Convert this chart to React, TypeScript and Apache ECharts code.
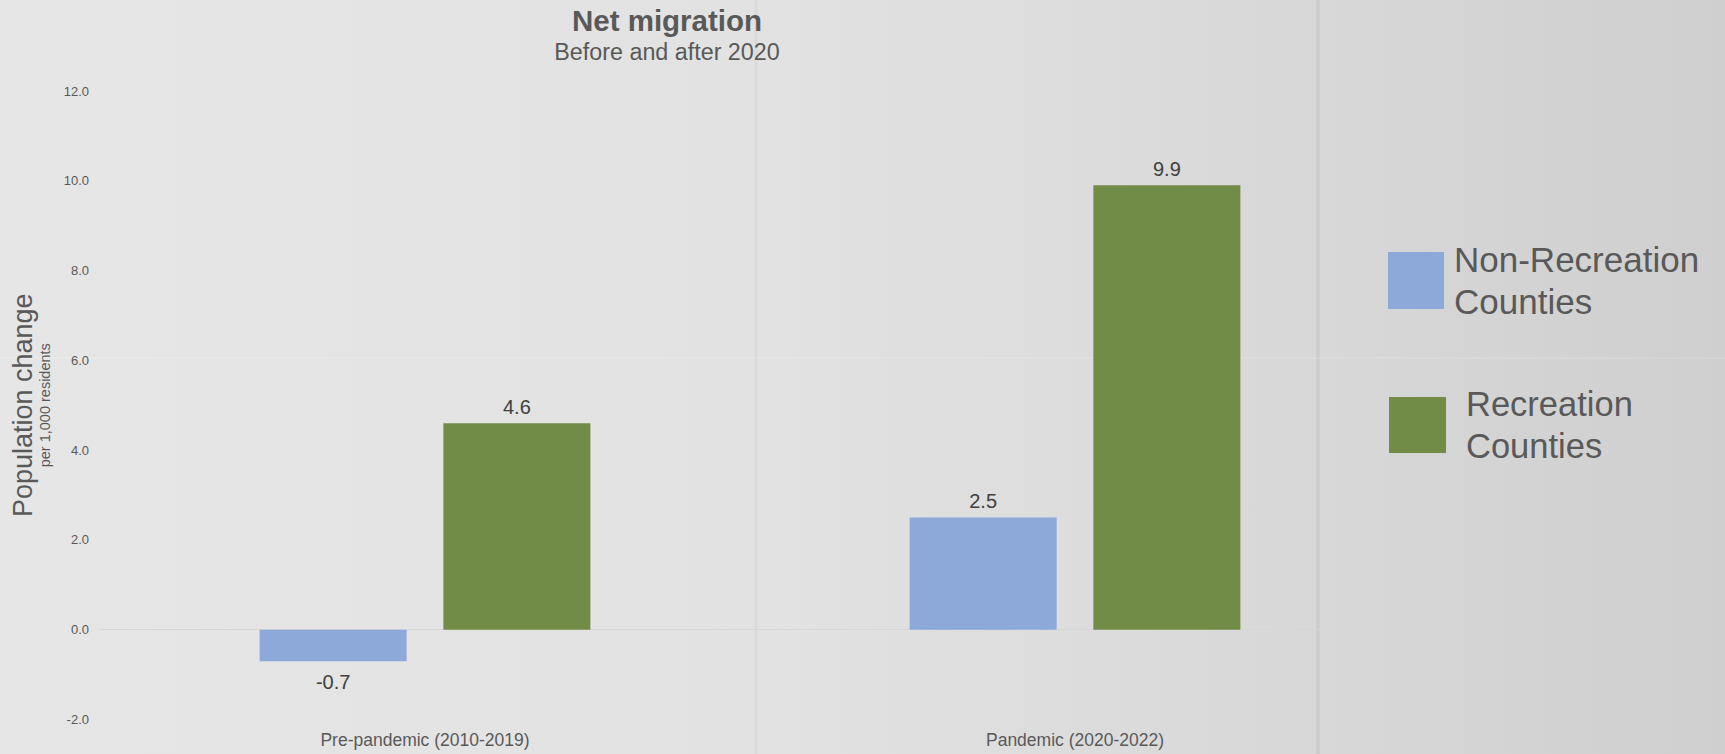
import React, { useEffect, useRef } from "react";
import * as echarts from "echarts";

const categories = ["Pre-pandemic (2010-2019)", "Pandemic (2020-2022)"];
const seriesNames = ["Non-Recreation\nCounties", "Recreation\nCounties"];
const nonRecreation = [-0.7, 2.5];
const recreation = [4.6, 9.9];
const yMin = -2;
const yMax = 12;
const yInterval = 2;
const colors = ["#8DA9DA", "#718C47"];

export default function App() {
  const ref = useRef<HTMLDivElement>(null);
  useEffect(() => {
    document.body.style.margin = "0";
    if (!ref.current) return;
    const chart = echarts.init(ref.current, null, { renderer: "svg" });
    const mkData = (vals: number[]) =>
      vals.map((v) => ({
        value: v,
        label: { position: v < 0 ? "bottom" : "top", distance: v < 0 ? 11 : 6 },
      }));
    const font = "Liberation Sans, Arial, sans-serif";
    chart.setOption({
      animation: false,
      backgroundColor: {
        type: "linear",
        x: 0,
        y: 0,
        x2: 1,
        y2: 0,
        colorStops: [
          { offset: 0, color: "#e6e6e6" },
          { offset: 0.45, color: "#e2e2e2" },
          { offset: 0.75, color: "#d8d8d8" },
          { offset: 1, color: "#cfcfcf" },
        ],
      },
      textStyle: { fontFamily: font },
      graphic: [
        { type: "line", z: -5, silent: true, shape: { x1: 756, y1: 0, x2: 756, y2: 754 }, style: { stroke: "rgba(0,0,0,0.03)", lineWidth: 3 } },
        { type: "line", z: -5, silent: true, shape: { x1: 1318, y1: 0, x2: 1318, y2: 754 }, style: { stroke: "rgba(0,0,0,0.045)", lineWidth: 4 } },
        { type: "line", z: -5, silent: true, shape: { x1: 0, y1: 358, x2: 1725, y2: 358 }, style: { stroke: "rgba(255,255,255,0.12)", lineWidth: 2 } },
      ],
      title: {
        text: "Net migration",
        subtext: "Before and after 2020",
        left: 667,
        top: 5,
        textAlign: "center",
        padding: 0,
        itemGap: 5,
        textStyle: { fontSize: 29.5, fontWeight: "bold", color: "#595959", fontFamily: font },
        subtextStyle: { fontSize: 23.3, color: "#595959", fontFamily: font },
      },
      legend: [
        {
          data: [seriesNames[0]],
          left: 1388,
          top: 233.5,
          icon: "rect",
          itemWidth: 56,
          itemHeight: 57,
          selectedMode: false,
          padding: 0,
          textStyle: { fontSize: 35, lineHeight: 42, color: "#595959", padding: [10, 0, 0, 5], fontFamily: font },
        },
        {
          data: [seriesNames[1]],
          left: 1389,
          top: 374.5,
          icon: "rect",
          itemWidth: 57,
          itemHeight: 56,
          selectedMode: false,
          padding: 0,
          textStyle: { fontSize: 34.5, lineHeight: 42, color: "#595959", padding: [17, 0, 0, 15], fontFamily: font },
        },
      ],
      grid: { left: 100, right: 325, top: 91, bottom: 34.5, containLabel: false },
      xAxis: [
        {
          type: "category",
          data: categories,
          position: "bottom",
          axisLine: { show: false, onZero: false },
          axisTick: { show: false },
          axisLabel: { fontSize: 17.5, color: "#595959", margin: 11 },
        },
        {
          type: "category",
          data: categories,
          position: "bottom",
          axisLine: { show: true, onZero: true, onZeroAxisIndex: 0, lineStyle: { color: "#d6d6d6", width: 1 } },
          axisTick: { show: false },
          axisLabel: { show: false },
        },
      ],
      yAxis: {
        type: "value",
        min: yMin,
        max: yMax,
        interval: yInterval,
        axisLine: { show: false },
        axisTick: { show: false },
        splitLine: { show: false },
        axisLabel: {
          fontSize: 13,
          color: "#595959",
          margin: 11,
          formatter: (v: number) => v.toFixed(1),
        },
        name: "{a|Population change}\n{b|per 1,000 residents}",
        nameLocation: "middle",
        nameGap: 41,
        nameTextStyle: {
          color: "#595959",
          rich: {
            a: { fontSize: 27, lineHeight: 28, color: "#595959", fontFamily: font },
            b: { fontSize: 14.5, lineHeight: 16, color: "#595959", fontFamily: font },
          },
        },
      },
      series: [
        {
          name: seriesNames[0],
          type: "bar",
          data: mkData(nonRecreation),
          barWidth: 147,
          barGap: "25%",
          itemStyle: { color: colors[0] },
          label: {
            show: true,
            fontSize: 20,
            color: "#404040",
            formatter: (p: any) => Number(p.value).toFixed(1),
          },
        },
        {
          name: seriesNames[1],
          type: "bar",
          data: mkData(recreation),
          barWidth: 147,
          barGap: "25%",
          itemStyle: { color: colors[1] },
          label: {
            show: true,
            fontSize: 20,
            color: "#404040",
            formatter: (p: any) => Number(p.value).toFixed(1),
          },
        },
      ],
    });
    return () => chart.dispose();
  }, []);
  return <div ref={ref} style={{ width: 1725, height: 754 }} />;
}
